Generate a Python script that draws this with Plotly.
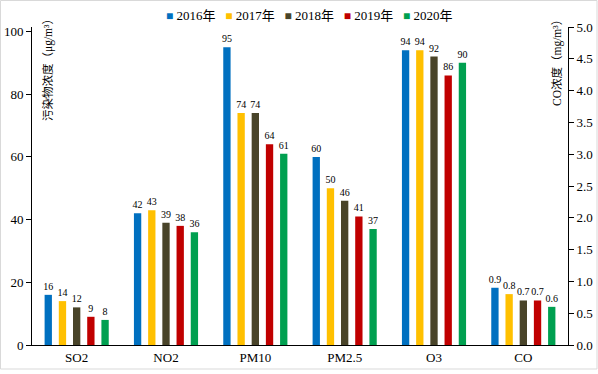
import plotly.graph_objects as go

categories = ["SO2", "NO2", "PM10", "PM2.5", "O3", "CO"]
years = ["2016年", "2017年", "2018年", "2019年", "2020年"]
colors = ["#0070C0", "#FFC000", "#494429", "#C00000", "#00A050"]

# pollutant concentrations (μg/m³) for SO2..O3, CO in mg/m³
values = {
    "2016年": [16, 42, 95, 60, 94],
    "2017年": [14, 43, 74, 50, 94],
    "2018年": [12, 39, 74, 46, 92],
    "2019年": [9, 38, 64, 41, 86],
    "2020年": [8, 36, 61, 37, 90],
}
co_values = {
    "2016年": 0.9,
    "2017年": 0.8,
    "2018年": 0.7,
    "2019年": 0.7,
    "2020年": 0.6,
}

FONT = "'Liberation Serif', 'Times New Roman', 'Noto Sans CJK SC', serif"
W, H = 598, 374
L, R, T, B = 32, 30, 27, 29
pw = W - L - R
ph = H - T - B

bar_w = 0.082
pitch = 0.159

fig = go.Figure()
for i, yr in enumerate(years):
    center = (i - 2) * pitch
    off = center - bar_w / 2
    fig.add_trace(go.Bar(
        x=categories[:5], y=values[yr], name=yr,
        marker=dict(color=colors[i], line=dict(width=0)),
        width=bar_w, offset=off,
        text=[str(v) for v in values[yr]], textposition="outside",
        textfont=dict(family=FONT, size=10, color="#000000"),
        cliponaxis=False, constraintext="none", showlegend=False,
    ))
    fig.add_trace(go.Bar(
        x=[categories[5]], y=[co_values[yr]], name=yr, yaxis="y2",
        marker=dict(color=colors[i], line=dict(width=0)),
        width=bar_w, offset=off,
        text=[f"{co_values[yr]:.1f}"], textposition="outside",
        textfont=dict(family=FONT, size=10, color="#000000"),
        cliponaxis=False, constraintext="none", showlegend=False,
    ))

def px_x(p):
    return (p - L) / pw

def px_y(p):
    return (H - B - p) / ph

legend_text = "&nbsp;&nbsp;&nbsp;".join(
    f"<span style='color:{c};font-size:12px'>■</span>&nbsp;{y}" for c, y in zip(colors, years)
)

annotations = [
    dict(text=legend_text, x=px_x(309), y=px_y(15), xref="paper", yref="paper",
         showarrow=False, xanchor="center", yanchor="middle",
         font=dict(family=FONT, size=13, color="#000000")),
    dict(text="污染物浓度（μg/m³）", x=px_x(48), y=px_y(67), xref="paper", yref="paper",
         showarrow=False, textangle=-90, xanchor="center", yanchor="middle",
         font=dict(family=FONT, size=11.5, color="#000000")),
    dict(text="CO浓度（mg/m³）", x=px_x(557), y=px_y(60), xref="paper", yref="paper",
         showarrow=False, textangle=-90, xanchor="center", yanchor="middle",
         font=dict(family=FONT, size=11.5, color="#000000")),
]

fig.update_layout(
    width=W, height=H,
    margin=dict(l=L, r=R, t=T, b=B, autoexpand=False),
    paper_bgcolor="white", plot_bgcolor="white",
    barmode="overlay",
    showlegend=False,
    font=dict(family=FONT, size=12, color="#000000"),
    xaxis=dict(
        type="category", categoryorder="array", categoryarray=categories,
        range=[-0.5, 5.5], automargin=False,
        showline=True, linecolor="#000000", linewidth=1,
        ticks="", showgrid=False, zeroline=False,
        tickfont=dict(family=FONT, size=13, color="#000000"),
    ),
    yaxis=dict(
        range=[0, ph / 3.135], tick0=0, dtick=20, automargin=False,
        showline=True, linecolor="#000000", linewidth=1,
        ticks="outside", ticklen=5, tickcolor="#000000",
        showgrid=False, zeroline=False,
        tickfont=dict(family=FONT, size=13, color="#000000"),
    ),
    yaxis2=dict(
        overlaying="y", side="right", automargin=False,
        range=[0, 5], tick0=0, dtick=0.5, tickformat=".1f",
        showline=True, linecolor="#000000", linewidth=1,
        ticks="outside", ticklen=5, tickcolor="#000000",
        showgrid=False, zeroline=False,
        tickfont=dict(family=FONT, size=13, color="#000000"),
    ),
    annotations=annotations,
    shapes=[dict(type="rect", xref="paper", yref="paper",
                 x0=px_x(0.5), x1=px_x(597), y0=px_y(369), y1=px_y(0.5),
                 line=dict(color="#D9D9D9", width=1), layer="below")],
)

fig.write_html(
    "out.html",
    config={"displayModeBar": False},
    post_script="document.body.style.margin='0';document.body.style.padding='0';",
)
